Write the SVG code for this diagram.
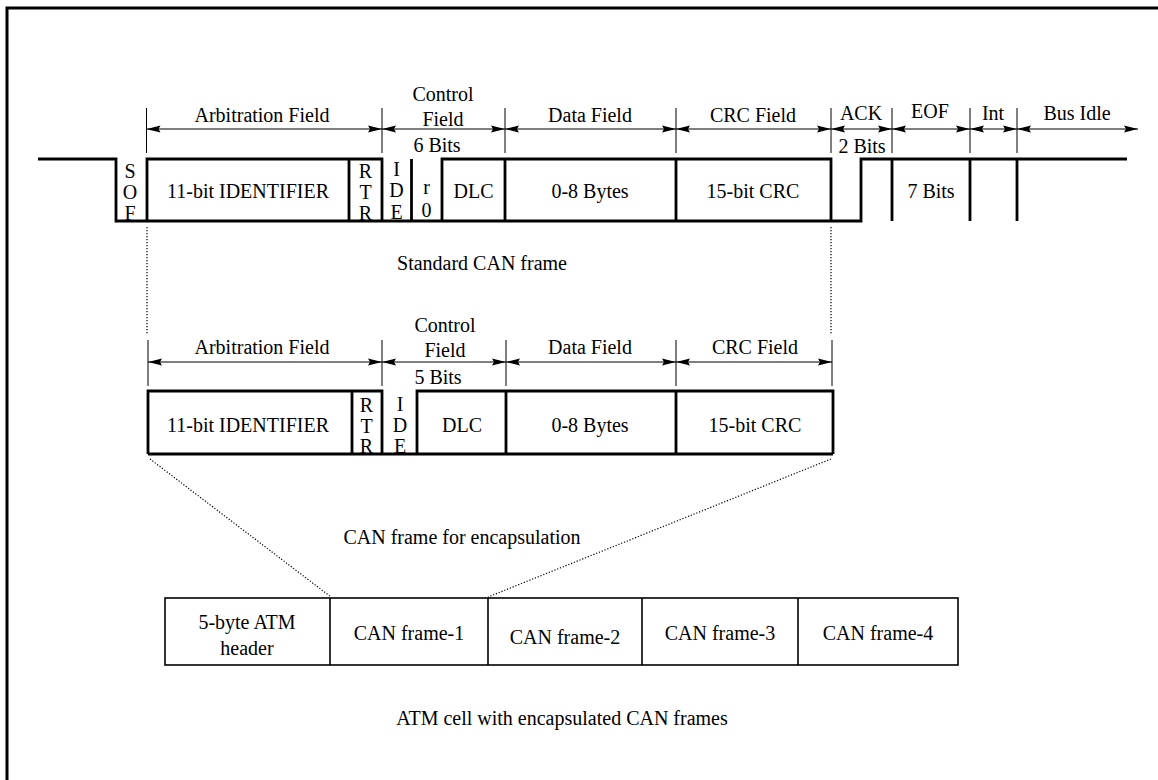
<svg xmlns="http://www.w3.org/2000/svg" width="1158" height="780" viewBox="0 0 1158 780">
<style>
text{font-size:20px;fill:#000;text-anchor:middle}
.thick{fill:none;stroke:#000;stroke-width:2.8}
.box{fill:none;stroke:#000;stroke-width:1.6}
.tick{stroke:#000;stroke-width:1}
.dim{stroke:#000;stroke-width:1.2;marker-start:url(#ah);marker-end:url(#ah)}
.dot{fill:none;stroke:#000;stroke-width:1.2;stroke-dasharray:1.2 1.8}
</style>
<defs>
<marker id="ah" viewBox="0 0 14 8" refX="14" refY="4" markerWidth="14" markerHeight="8" markerUnits="userSpaceOnUse" orient="auto-start-reverse">
<path d="M0,0.5 L14,4 L0,7.5 L2,4 Z" fill="#000"/>
</marker>
</defs>
<rect x="0" y="0" width="1158" height="780" fill="#fff"/>
<g id="border"><path d="M7,790 V8 H1170" fill="none" stroke="#000" stroke-width="3"/></g>

<g font-family="Liberation Serif, Times New Roman, serif">
<g id="standard-frame">
<path class="thick" d="M38,159 H116 V221 H861 V159 H1127"/>
<path class="thick" d="M147,221 V159 H382 V221 M349,159 V221 M411.5,159 V221 M442,221 V159 H831 V221 M505,159 V221 M676,159 V221 M892,159 V221 M970,159 V221 M1017,159 V221"/>
<text x="130" y="178">S</text><text x="130" y="199">O</text><text x="130" y="220">F</text>
<text x="248" y="198">11-bit IDENTIFIER</text>
<text x="365.5" y="178">R</text><text x="365.5" y="199">T</text><text x="365.5" y="220">R</text>
<text x="396.5" y="176">I</text><text x="396.5" y="197">D</text><text x="396.5" y="219">E</text>
<text x="426.5" y="194">r</text><text x="426.5" y="217">0</text>
<text x="473.5" y="198">DLC</text>
<text x="590" y="198">0-8 Bytes</text>
<text x="753" y="198">15-bit CRC</text>
<text x="931" y="198">7 Bits</text>
</g>

<g id="standard-labels">
<text x="262" y="122">Arbitration Field</text>
<text x="443" y="101">Control</text>
<text x="443" y="126">Field</text>
<text x="437" y="152">6 Bits</text>
<text x="590" y="122">Data Field</text>
<text x="753" y="122">CRC Field</text>
<text x="861" y="120">ACK</text>
<text x="862" y="153">2 Bits</text>
<text x="930" y="118">EOF</text>
<text x="993" y="120">Int</text>
<text x="1077" y="120">Bus Idle</text>
<text x="482" y="270">Standard CAN frame</text>
</g>

<g id="encap-frame">
<path class="thick" d="M148,454 V391 H382 V454 M148,454 H833 M352,391 V454 M417,454 V391 H833 V454 M506,391 V454 M676,391 V454"/>
<text x="248" y="432">11-bit IDENTIFIER</text>
<text x="366.5" y="412">R</text><text x="366.5" y="433">T</text><text x="366.5" y="453">R</text>
<text x="400" y="411">I</text><text x="400" y="432">D</text><text x="400" y="453">E</text>
<text x="462" y="432">DLC</text>
<text x="590" y="432">0-8 Bytes</text>
<text x="755" y="432">15-bit CRC</text>
</g>

<g id="encap-labels">
<text x="262" y="354">Arbitration Field</text>
<text x="445" y="332">Control</text>
<text x="445" y="357">Field</text>
<text x="438" y="384">5 Bits</text>
<text x="590" y="354">Data Field</text>
<text x="755" y="354">CRC Field</text>
<text x="462" y="544">CAN frame for encapsulation</text>
</g>

<g id="atm-cell">
<rect class="box" x="165" y="598" width="793" height="67"/>
<path class="box" d="M330,598 V665 M488,598 V665 M642,598 V665 M798,598 V665"/>
<text x="247" y="629">5-byte ATM</text>
<text x="247" y="655">header</text>
<text x="409" y="640">CAN frame-1</text>
<text x="565" y="644">CAN frame-2</text>
<text x="720" y="640">CAN frame-3</text>
<text x="878" y="640">CAN frame-4</text>
<text x="562" y="725">ATM cell with encapsulated CAN frames</text>
</g>
</g>

<g id="connectors">
<path class="tick" d="M146.5,108 V153 M382,108 V153 M505,108 V153 M676,108 V153 M831,108 V153 M892,108 V153 M970,108 V153 M1017,108 V153"/>
<line class="dim" x1="146.5" y1="129" x2="382" y2="129"/>
<line class="dim" x1="382" y1="129" x2="505" y2="129"/>
<line class="dim" x1="505" y1="129" x2="676" y2="129"/>
<line class="dim" x1="676" y1="129" x2="831" y2="129"/>
<line class="dim" x1="831" y1="129" x2="892" y2="129"/>
<line class="dim" x1="892" y1="129" x2="970" y2="129"/>
<line class="dim" x1="970" y1="129" x2="1017" y2="129"/>
<line class="dim" x1="1017" y1="129" x2="1138" y2="129"/>
<path class="tick" d="M148,340 V386 M382,340 V386 M506,340 V386 M676,340 V386 M832,340 V386"/>
<line class="dim" x1="148" y1="362" x2="382" y2="362"/>
<line class="dim" x1="382" y1="362" x2="506" y2="362"/>
<line class="dim" x1="506" y1="362" x2="676" y2="362"/>
<line class="dim" x1="676" y1="362" x2="832" y2="362"/>
<path class="dot" d="M147,227 V334 M831,227 V334"/>
<path class="dot" d="M150,459 L331,597 M831,459 L488,597"/>
</g>
</svg>
